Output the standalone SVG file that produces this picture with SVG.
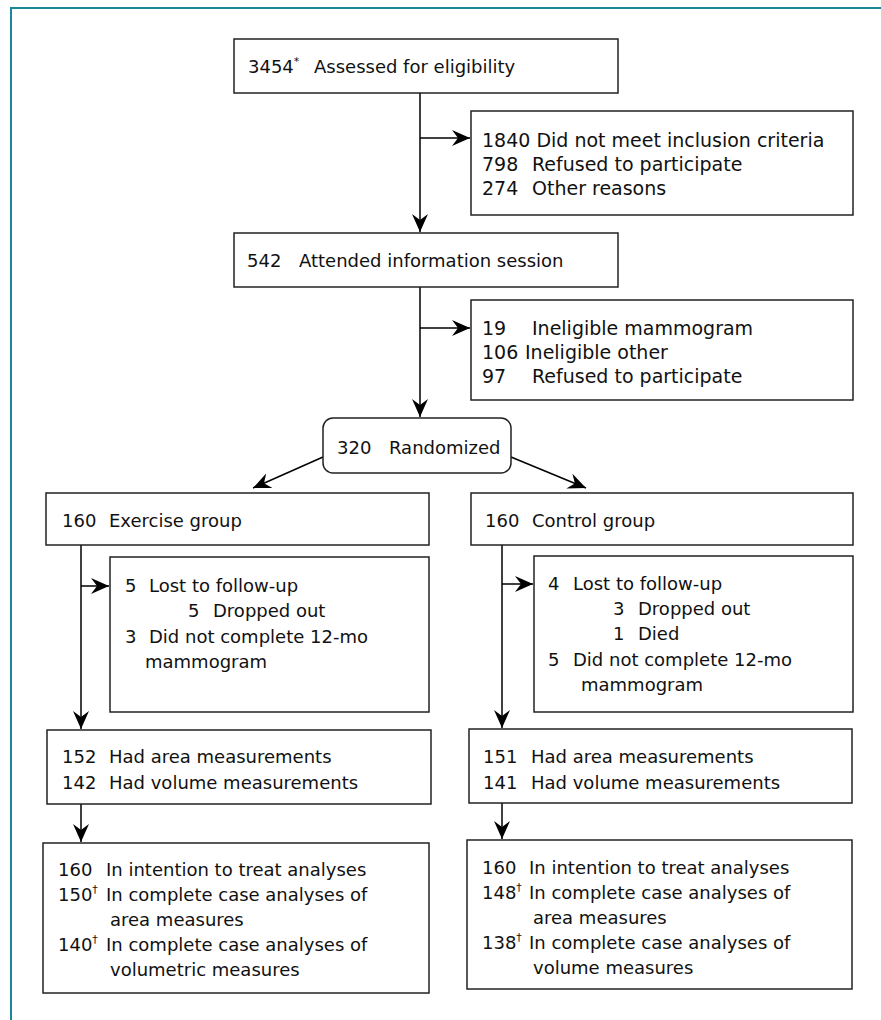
<svg xmlns="http://www.w3.org/2000/svg" width="881" height="1020" viewBox="0 0 881 1020">
<style>
.box{fill:#fff;stroke:#222;stroke-width:1.5}
.t{font-family:"DejaVu Sans","Liberation Sans",sans-serif;font-size:18px;fill:#111}
.t19{font-size:19px}
.sup{font-size:11px}
.ln{fill:none;stroke:#000;stroke-width:1.5}
.frame{fill:none;stroke:#1c8796;stroke-width:2}
</style>
<defs>
<marker id="ah" viewBox="0 0 18 16" refX="18" refY="8" markerWidth="18" markerHeight="16" markerUnits="userSpaceOnUse" orient="auto">
<path d="M0,0 L18,8 L0,16 L6,8 Z" fill="#000"/>
</marker>
</defs>
<rect width="881" height="1020" fill="#fff"/>
<path class="frame" d="M11,1020 V8 H881"/>

<g id="connectors">
<path class="ln" d="M420,93 V232" marker-end="url(#ah)"/>
<path class="ln" d="M420,138 H470" marker-end="url(#ah)"/>
<path class="ln" d="M420,287 V417" marker-end="url(#ah)"/>
<path class="ln" d="M420,328 H470" marker-end="url(#ah)"/>
<path class="ln" d="M323,457 L253,488" marker-end="url(#ah)"/>
<path class="ln" d="M511,457 L586,488" marker-end="url(#ah)"/>
<path class="ln" d="M81,545 V729" marker-end="url(#ah)"/>
<path class="ln" d="M81,586 H109" marker-end="url(#ah)"/>
<path class="ln" d="M502,545 V728" marker-end="url(#ah)"/>
<path class="ln" d="M502,584 H533" marker-end="url(#ah)"/>
<path class="ln" d="M81,804 V842" marker-end="url(#ah)"/>
<path class="ln" d="M502,803 V839" marker-end="url(#ah)"/>
</g>

<g id="assessed">
<rect class="box" x="234" y="39" width="384" height="54"/>
<text class="t" y="73"><tspan x="248">3454</tspan><tspan class="sup" dy="-8">*</tspan><tspan x="314" dy="8">Assessed for eligibility</tspan></text>
</g>

<g id="excluded1">
<rect class="box" x="471" y="111" width="382" height="104"/>
<text class="t t19" y="147"><tspan x="482">1840 Did not meet inclusion criteria</tspan></text>
<text class="t t19" y="171"><tspan x="482">798</tspan><tspan x="532">Refused to participate</tspan></text>
<text class="t t19" y="195"><tspan x="482">274</tspan><tspan x="532">Other reasons</tspan></text>
</g>

<g id="attended">
<rect class="box" x="234" y="233" width="384" height="54"/>
<text class="t" y="267"><tspan x="247">542</tspan><tspan x="299">Attended information session</tspan></text>
</g>

<g id="excluded2">
<rect class="box" x="471" y="300" width="382" height="100"/>
<text class="t t19" y="335"><tspan x="482">19</tspan><tspan x="532">Ineligible mammogram</tspan></text>
<text class="t t19" y="359"><tspan x="482">106</tspan><tspan x="525">Ineligible other</tspan></text>
<text class="t t19" y="383"><tspan x="482">97</tspan><tspan x="532">Refused to participate</tspan></text>
</g>

<g id="randomized">
<rect class="box" x="323" y="418" width="188" height="55" rx="10"/>
<text class="t" y="454"><tspan x="337">320</tspan><tspan x="389">Randomized</tspan></text>
</g>

<g id="exercise">
<rect class="box" x="46" y="493" width="383" height="52"/>
<text class="t" y="527"><tspan x="62">160</tspan><tspan x="109">Exercise group</tspan></text>
</g>

<g id="exercise-lost">
<rect class="box" x="110" y="557" width="319" height="155"/>
<text class="t" y="592"><tspan x="125">5</tspan><tspan x="149">Lost to follow-up</tspan></text>
<text class="t" y="617"><tspan x="188">5</tspan><tspan x="213">Dropped out</tspan></text>
<text class="t" y="643"><tspan x="125">3</tspan><tspan x="149">Did not complete 12-mo</tspan></text>
<text class="t" y="668"><tspan x="145">mammogram</tspan></text>
</g>

<g id="exercise-measured">
<rect class="box" x="47" y="730" width="384" height="74"/>
<text class="t" y="763"><tspan x="62">152</tspan><tspan x="109">Had area measurements</tspan></text>
<text class="t" y="789"><tspan x="62">142</tspan><tspan x="109">Had volume measurements</tspan></text>
</g>

<g id="exercise-analysed">
<rect class="box" x="43" y="843" width="386" height="150"/>
<text class="t" y="876"><tspan x="58">160</tspan><tspan x="106">In intention to treat analyses</tspan></text>
<text class="t" y="901"><tspan x="58">150</tspan><tspan class="sup" dy="-8">†</tspan><tspan x="106" dy="8">In complete case analyses of</tspan></text>
<text class="t" y="926"><tspan x="110">area measures</tspan></text>
<text class="t" y="951"><tspan x="58">140</tspan><tspan class="sup" dy="-8">†</tspan><tspan x="106" dy="8">In complete case analyses of</tspan></text>
<text class="t" y="976"><tspan x="110">volumetric measures</tspan></text>
</g>

<g id="control">
<rect class="box" x="471" y="493" width="382" height="52"/>
<text class="t" y="527"><tspan x="485">160</tspan><tspan x="532">Control group</tspan></text>
</g>

<g id="control-lost">
<rect class="box" x="534" y="556" width="319" height="156"/>
<text class="t" y="590"><tspan x="548">4</tspan><tspan x="573">Lost to follow-up</tspan></text>
<text class="t" y="615"><tspan x="613">3</tspan><tspan x="638">Dropped out</tspan></text>
<text class="t" y="640"><tspan x="613">1</tspan><tspan x="638">Died</tspan></text>
<text class="t" y="666"><tspan x="548">5</tspan><tspan x="573">Did not complete 12-mo</tspan></text>
<text class="t" y="691"><tspan x="581">mammogram</tspan></text>
</g>

<g id="control-measured">
<rect class="box" x="469" y="729" width="383" height="74"/>
<text class="t" y="763"><tspan x="483">151</tspan><tspan x="531">Had area measurements</tspan></text>
<text class="t" y="789"><tspan x="483">141</tspan><tspan x="531">Had volume measurements</tspan></text>
</g>

<g id="control-analysed">
<rect class="box" x="467" y="840" width="385" height="149"/>
<text class="t" y="874"><tspan x="482">160</tspan><tspan x="529">In intention to treat analyses</tspan></text>
<text class="t" y="899"><tspan x="482">148</tspan><tspan class="sup" dy="-8">†</tspan><tspan x="529" dy="8">In complete case analyses of</tspan></text>
<text class="t" y="924"><tspan x="533">area measures</tspan></text>
<text class="t" y="949"><tspan x="482">138</tspan><tspan class="sup" dy="-8">†</tspan><tspan x="529" dy="8">In complete case analyses of</tspan></text>
<text class="t" y="974"><tspan x="533">volume measures</tspan></text>
</g>
</svg>
